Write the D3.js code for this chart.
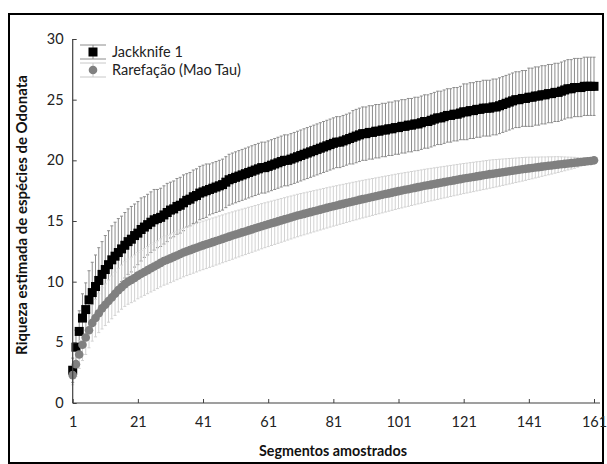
<!DOCTYPE html>
<html><head><meta charset="utf-8">
<script src="https://cdn.jsdelivr.net/npm/d3@7"></script>
<style>
html,body{margin:0;padding:0;background:#fff;}
svg{display:block;}
text{font-family:Lato,"Open Sans",sans-serif;}
</style></head>
<body>
<svg id="chart" width="607" height="464"></svg>
<script>
// ---- data ----
const seriesNames = ["Jackknife 1", "Rarefação (Mao Tau)"];
const xTicks = [1, 21, 41, 61, 81, 101, 121, 141, 161];
const yTicks = [0, 5, 10, 15, 20, 25, 30];
const xTitle = "Segmentos amostrados";
const yTitle = "Riqueza estimada de espécies de Odonata";

const jackMean = [
 2.7, 4.6, 5.9, 7.0, 7.7, 8.5, 9.1, 9.6, 10.1, 10.6,
 11.0, 11.4, 11.8, 12.1, 12.4, 12.7, 13.0, 13.3, 13.5, 13.8,
 14.0, 14.3, 14.5, 14.7, 14.9, 15.1, 15.2, 15.3, 15.5, 15.7,
 15.9, 16.0, 16.2, 16.3, 16.5, 16.7, 16.8, 17.0, 17.1, 17.3,
 17.4, 17.5, 17.6, 17.7, 17.8, 17.9, 18.0, 18.2, 18.4, 18.5,
 18.6, 18.7, 18.8, 18.9, 19.0, 19.1, 19.2, 19.3, 19.4, 19.4,
 19.5, 19.6, 19.7, 19.8, 19.9, 20.0, 20.0, 20.1, 20.2, 20.3,
 20.4, 20.5, 20.6, 20.7, 20.8, 20.9, 21.0, 21.1, 21.2, 21.3,
 21.4, 21.5, 21.5, 21.6, 21.7, 21.8, 21.9, 22.0, 22.1, 22.2,
 22.2, 22.3, 22.3, 22.4, 22.4, 22.5, 22.5, 22.6, 22.6, 22.7,
 22.7, 22.8, 22.8, 22.9, 22.9, 23.0, 23.0, 23.1, 23.2, 23.2,
 23.3, 23.4, 23.5, 23.5, 23.6, 23.7, 23.7, 23.8, 23.8, 23.9,
 24.0, 24.0, 24.1, 24.1, 24.2, 24.2, 24.3, 24.3, 24.3, 24.4,
 24.4, 24.5, 24.6, 24.7, 24.8, 24.9, 25.0, 25.0, 25.1, 25.1,
 25.2, 25.2, 25.3, 25.3, 25.4, 25.4, 25.5, 25.5, 25.6, 25.6,
 25.7, 25.8, 25.9, 25.9, 26.0, 26.0, 26.0, 26.1, 26.1, 26.1,
 26.1
];
const jackErr = [
 1.0, 1.4, 1.7, 2.0, 2.2, 2.4, 2.5, 2.6, 2.7, 2.7,
 2.8, 2.8, 2.8, 2.8, 2.8, 2.7, 2.7, 2.7, 2.7, 2.6,
 2.6, 2.6, 2.5, 2.5, 2.5, 2.5, 2.4, 2.4, 2.4, 2.4,
 2.3, 2.3, 2.3, 2.3, 2.3, 2.2, 2.2, 2.2, 2.2, 2.2,
 2.2, 2.2, 2.1, 2.1, 2.1, 2.1, 2.1, 2.1, 2.1, 2.1,
 2.1, 2.1, 2.1, 2.1, 2.1, 2.1, 2.1, 2.1, 2.1, 2.1,
 2.1, 2.1, 2.1, 2.1, 2.1, 2.1, 2.1, 2.1, 2.1, 2.1,
 2.1, 2.1, 2.1, 2.1, 2.1, 2.1, 2.1, 2.1, 2.1, 2.1,
 2.1, 2.1, 2.1, 2.1, 2.1, 2.1, 2.2, 2.2, 2.2, 2.2,
 2.2, 2.2, 2.2, 2.2, 2.2, 2.2, 2.2, 2.2, 2.2, 2.2,
 2.2, 2.2, 2.2, 2.2, 2.2, 2.2, 2.2, 2.2, 2.2, 2.2,
 2.2, 2.2, 2.2, 2.2, 2.2, 2.2, 2.2, 2.2, 2.2, 2.2,
 2.3, 2.3, 2.3, 2.3, 2.3, 2.3, 2.3, 2.3, 2.3, 2.3,
 2.3, 2.3, 2.3, 2.3, 2.3, 2.3, 2.3, 2.3, 2.3, 2.3,
 2.4, 2.4, 2.4, 2.4, 2.4, 2.4, 2.4, 2.4, 2.4, 2.4,
 2.4, 2.4, 2.4, 2.4, 2.4, 2.4, 2.4, 2.4, 2.4, 2.4,
 2.4
];
const maoMean = [
 2.3, 3.2, 4.0, 4.8, 5.4, 6.0, 6.6, 7.0, 7.4, 7.8,
 8.1, 8.4, 8.7, 9.0, 9.3, 9.55, 9.8, 10.0, 10.15, 10.3,
 10.5, 10.65, 10.8, 10.95, 11.1, 11.25, 11.4, 11.55, 11.7, 11.8,
 11.92, 12.04, 12.16, 12.28, 12.4, 12.5, 12.6, 12.7, 12.8, 12.9,
 12.99, 13.08, 13.17, 13.26, 13.35, 13.44, 13.53, 13.62, 13.71, 13.8,
 13.89, 13.97, 14.06, 14.14, 14.23, 14.31, 14.4, 14.48, 14.57, 14.65,
 14.73, 14.81, 14.89, 14.97, 15.05, 15.13, 15.21, 15.29, 15.37, 15.45,
 15.52, 15.59, 15.66, 15.73, 15.8, 15.87, 15.94, 16.01, 16.08, 16.15,
 16.22, 16.28, 16.35, 16.41, 16.48, 16.54, 16.61, 16.67, 16.74, 16.8,
 16.86, 16.92, 16.98, 17.04, 17.1, 17.16, 17.22, 17.28, 17.34, 17.4,
 17.46, 17.51, 17.57, 17.62, 17.68, 17.73, 17.79, 17.84, 17.9, 17.95,
 18.0, 18.05, 18.1, 18.15, 18.2, 18.25, 18.3, 18.35, 18.4, 18.45,
 18.5, 18.54, 18.59, 18.63, 18.68, 18.72, 18.77, 18.81, 18.86, 18.9,
 18.94, 18.98, 19.02, 19.06, 19.1, 19.14, 19.18, 19.22, 19.26, 19.3,
 19.34, 19.37, 19.41, 19.44, 19.48, 19.51, 19.55, 19.58, 19.62, 19.65,
 19.68, 19.71, 19.74, 19.77, 19.8, 19.83, 19.86, 19.89, 19.92, 19.95,
 20.0
];
const maoErr = [
 0.8, 1.0, 1.15, 1.3, 1.4, 1.45, 1.5, 1.55, 1.6, 1.7,
 1.72, 1.74, 1.76, 1.78, 1.8, 1.82, 1.84, 1.86, 1.88, 1.9,
 1.91, 1.92, 1.93, 1.94, 1.95, 1.96, 1.97, 1.98, 1.99, 2.0,
 2.0, 2.0, 2.0, 2.0, 2.0, 2.0, 2.0, 2.0, 2.0, 2.0,
 2.0, 2.0, 1.99, 1.99, 1.98, 1.98, 1.97, 1.97, 1.96, 1.95,
 1.94, 1.93, 1.92, 1.91, 1.9, 1.89, 1.88, 1.87, 1.86, 1.85,
 1.84, 1.83, 1.82, 1.81, 1.8, 1.79, 1.78, 1.77, 1.76, 1.75,
 1.74, 1.73, 1.72, 1.71, 1.7, 1.69, 1.68, 1.67, 1.66, 1.65,
 1.64, 1.63, 1.62, 1.61, 1.6, 1.59, 1.58, 1.57, 1.56, 1.55,
 1.54, 1.53, 1.52, 1.51, 1.5, 1.49, 1.48, 1.47, 1.46, 1.45,
 1.44, 1.43, 1.42, 1.41, 1.4, 1.39, 1.38, 1.37, 1.36, 1.35,
 1.34, 1.33, 1.32, 1.31, 1.3, 1.29, 1.28, 1.27, 1.26, 1.25,
 1.24, 1.23, 1.22, 1.21, 1.2, 1.19, 1.18, 1.17, 1.16, 1.15,
 1.13, 1.11, 1.09, 1.07, 1.05, 1.03, 1.01, 0.99, 0.97, 0.95,
 0.92, 0.89, 0.86, 0.83, 0.8, 0.77, 0.74, 0.71, 0.68, 0.65,
 0.61, 0.57, 0.53, 0.49, 0.45, 0.39, 0.32, 0.25, 0.17, 0.09,
 0.0
];

// ---- layout ----
const svg = d3.select("#chart");
const W = 607, H = 464;
const x = d3.scaleLinear().domain([1, 161]).range([72.7, 594]);
const y = d3.scaleLinear().domain([0, 30]).range([403, 39]);

svg.append("rect").attr("width", W).attr("height", H).attr("fill", "#fff");
// outer frame
svg.append("rect").attr("x", 9).attr("y", 14).attr("width", 594).attr("height", 449)
  .attr("fill", "none").attr("stroke", "#000").attr("stroke-width", 2);

const jack = jackMean.map((v, i) => ({s: i + 1, v, e: jackErr[i]}));
const mao = maoMean.map((v, i) => ({s: i + 1, v, e: maoErr[i]}));

function errBars(data, color, cls) {
  const g = svg.append("g").attr("class", cls).attr("stroke", color).attr("stroke-width", 1).attr("fill", "none");
  g.selectAll("path").data(data).join("path")
    .attr("d", d => {
      const cx = x(d.s), y0 = y(d.v - d.e), y1 = y(d.v + d.e), c = 1.5;
      return `M${cx},${y0}V${y1}M${cx - c},${y0}H${cx + c}M${cx - c},${y1}H${cx + c}`;
    });
}
errBars(jack, "#8c8c8c", "jack-err");
errBars(mao, "#d2d2d2", "mao-err");

svg.append("g").selectAll("rect").data(jack).join("rect")
  .attr("x", d => x(d.s) - 4.5).attr("y", d => y(d.v) - 4.5)
  .attr("width", 9).attr("height", 9).attr("fill", "#000");
svg.append("g").selectAll("circle").data(mao).join("circle")
  .attr("cx", d => x(d.s)).attr("cy", d => y(d.v)).attr("r", 4.3)
  .attr("fill", "#808080");

// ---- axes ----
const axisColor = "#404040";
const xAxis = svg.append("g").attr("transform", "translate(0,403)")
  .call(d3.axisBottom(x).tickValues(xTicks).tickSizeInner(-4).tickSizeOuter(0).tickPadding(14));
xAxis.select(".domain").remove();
xAxis.append("line").attr("x1", x(1)).attr("x2", x(161) + 6).attr("stroke", axisColor).attr("stroke-width", 1.2);
xAxis.selectAll(".tick line").attr("stroke", axisColor);
xAxis.selectAll("text").attr("fill", "#222").style("font-size", "14.5px").style("font-family", "Lato, sans-serif");

const yAxis = svg.append("g").attr("transform", `translate(${x(1)},0)`)
  .call(d3.axisLeft(y).tickValues(yTicks).tickSizeInner(-4).tickSizeOuter(0).tickPadding(9));
yAxis.select(".domain").remove();
yAxis.append("line").attr("y1", y(0)).attr("y2", y(30)).attr("stroke", axisColor).attr("stroke-width", 1.2);
yAxis.selectAll(".tick line").attr("stroke", axisColor);
yAxis.selectAll("text").attr("fill", "#222").style("font-size", "14.5px").style("font-family", "Lato, sans-serif");

// titles
svg.append("text").attr("x", 333).attr("y", 456).attr("text-anchor", "middle")
  .style("font-weight", "bold").style("font-size", "14.3px").attr("fill", "#111").text(xTitle);
svg.append("text").attr("transform", "translate(27,215) rotate(-90)").attr("text-anchor", "middle")
  .style("font-weight", "bold").style("font-size", "15px").attr("fill", "#111").text(yTitle);

// ---- legend ----
const leg = svg.append("g");
const legItems = [
  {name: seriesNames[0], color: "#000", err: "#8c8c8c", shape: "square"},
  {name: seriesNames[1], color: "#808080", err: "#c8c8c8", shape: "circle"}
];
legItems.forEach((it, i) => {
  const cy = 52 + i * 18, cx = 93;
  const g = leg.append("g");
  g.append("path").attr("d", `M${cx},${cy - 7}V${cy + 7}M${cx - 13},${cy - 7}H${cx + 13}M${cx - 13},${cy + 7}H${cx + 13}`)
    .attr("stroke", it.err).attr("stroke-width", 1).attr("fill", "none");
  if (it.shape === "square") g.append("rect").attr("x", cx - 4.5).attr("y", cy - 4.5).attr("width", 9).attr("height", 9).attr("fill", it.color);
  else g.append("circle").attr("cx", cx).attr("cy", cy).attr("r", 4.3).attr("fill", it.color);
  g.append("text").attr("x", 112).attr("y", cy + 5).style("font-size", "14.5px").attr("fill", "#222").text(it.name);
});
</script>
</body></html>
